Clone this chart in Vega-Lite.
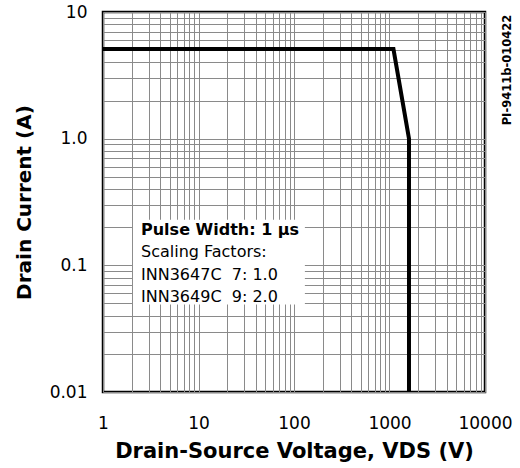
{
  "$schema": "https://vega.github.io/schema/vega-lite/v6.json",
  "width": 382,
  "height": 380,
  "autosize": "none",
  "padding": {"left": 103, "top": 12, "right": 35, "bottom": 76},
  "background": "white",
  "config": {
    "view": {"stroke": "black", "strokeWidth": 2.5},
    "font": "DejaVu Sans",
    "axis": {"gridColor": "#8a8a8a", "gridWidth": 1, "gridOpacity": 1, "domain": false, "ticks": false, "labelColor": "black", "titleColor": "black", "labelOverlap": false, "labelFlush": false}
  },
  "encoding": {
    "x": {
      "field": "vds", "type": "quantitative",
      "scale": {"type": "log", "domain": [1, 10000], "nice": false},
      "axis": {
        "title": "Drain-Source Voltage, VDS (V)",
        "titleFontSize": 21, "titleFontWeight": "bold", "titlePadding": 9,
        "labelFontSize": 17, "labelPadding": 23, "format": "d",
        "values": [1,2,3,4,5,6,7,8,9,10,20,30,40,50,60,70,80,90,100,200,300,400,500,600,700,800,900,1000,2000,3000,4000,5000,6000,7000,8000,9000,10000],
        "labelExpr": "indexof(['1','10','100','1000','10000'], datum.label) >= 0 ? datum.label : ''"
      }
    },
    "y": {
      "field": "id", "type": "quantitative",
      "scale": {"type": "log", "domain": [0.01, 10], "nice": false},
      "axis": {
        "title": "Drain Current (A)",
        "titleFontSize": 20, "titleFontWeight": "bold", "titlePadding": 15,
        "labelFontSize": 17, "labelPadding": 16,
        "values": [0.01,0.02,0.03,0.04,0.05,0.06,0.07,0.08,0.09,0.1,0.2,0.3,0.4,0.5,0.6,0.7,0.8,0.9,1,2,3,4,5,6,7,8,9,10],
        "labelExpr": "datum.value == 0.01 ? '0.01' : datum.value == 0.1 ? '0.1' : datum.value == 1 ? '1.0' : datum.value == 10 ? '10' : ''"
      }
    }
  },
  "layer": [
    {
      "data": {"values": [{"vds": 2.06, "vds2": 130, "id": 0.049, "id2": 0.229}]},
      "mark": {"type": "rect", "fill": "white", "stroke": null},
      "encoding": {"x2": {"field": "vds2"}, "y2": {"field": "id2"}}
    },
    {
      "data": {"values": [
        {"vds": 1, "id": 5.1, "o": 1},
        {"vds": 1100, "id": 5.1, "o": 2},
        {"vds": 1600, "id": 1.0, "o": 3},
        {"vds": 1600, "id": 0.01, "o": 4}
      ]},
      "mark": {"type": "line", "color": "black", "strokeWidth": 4, "strokeJoin": "miter"},
      "encoding": {"order": {"field": "o", "type": "quantitative"}}
    },
    {
      "data": {"values": [{"vds": 2.5, "id": 0.19, "t": "Pulse Width: 1 μs"}]},
      "mark": {"type": "text", "align": "left", "baseline": "middle", "fontSize": 16, "fontWeight": "bold", "color": "black"},
      "encoding": {"text": {"field": "t"}}
    },
    {
      "data": {"values": [
        {"vds": 2.5, "id": 0.128, "t": "Scaling Factors:"},
        {"vds": 2.5, "id": 0.084, "t": "INN3647C\u00a0\u00a07: 1.0"},
        {"vds": 2.5, "id": 0.056, "t": "INN3649C\u00a0\u00a09: 2.0"}
      ]},
      "mark": {"type": "text", "align": "left", "baseline": "middle", "fontSize": 16, "color": "black"},
      "encoding": {"text": {"field": "t"}}
    },
    {
      "data": {"values": [{"vds": 17400, "id": 3.48, "t": "PI-9411b-010422"}]},
      "mark": {"type": "text", "align": "center", "baseline": "middle", "fontSize": 11.5, "fontWeight": "bold", "angle": 270, "color": "black", "clip": false},
      "encoding": {"text": {"field": "t"}}
    }
  ]
}
